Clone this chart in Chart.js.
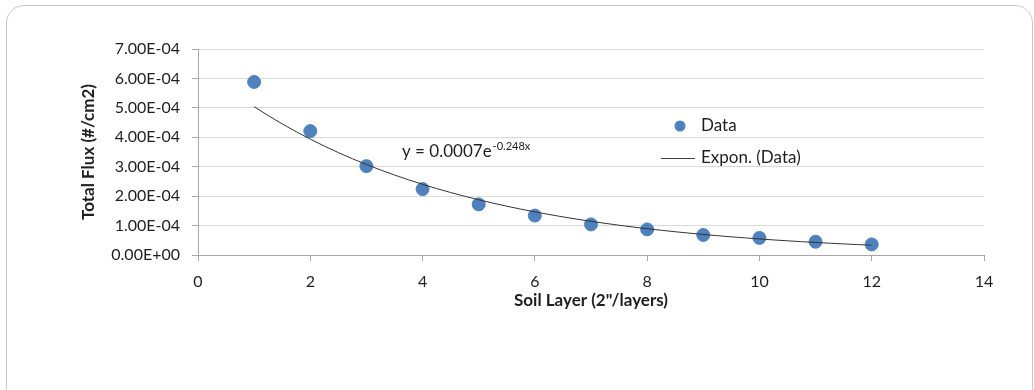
<!DOCTYPE html>
<html><head><meta charset="utf-8">
<script src="https://cdn.jsdelivr.net/npm/chart.js@4/dist/chart.umd.min.js"></script>
<style>
html,body{margin:0;padding:0;background:#fff;width:1034px;height:390px;overflow:hidden;}
#frame{position:absolute;left:6px;top:5px;width:1027px;height:430px;border:1.5px solid #c8c8c8;border-radius:18px;box-sizing:border-box;}
#c{position:absolute;left:0;top:0;}
</style></head><body>
<div id="frame"></div>
<canvas id="c" width="1034" height="390"></canvas>
<script>
// ---- data ----
const layers = [1, 2, 3, 4, 5, 6, 7, 8, 9, 10, 11, 12];
const flux = [5.88e-4, 4.21e-4, 3.02e-4, 2.24e-4, 1.72e-4, 1.34e-4, 1.04e-4, 0.87e-4, 0.68e-4, 0.58e-4, 0.45e-4, 0.36e-4];
const xTickValues = [0, 2, 4, 6, 8, 10, 12, 14];
const yTickValues = [0, 1e-4, 2e-4, 3e-4, 4e-4, 5e-4, 6e-4, 7e-4];
const seriesName = 'Data';
const trendName = 'Expon. (Data)';
const eqMain = 'y = 0.0007e';
const eqSup = '-0.248x';
const xTitle = 'Soil Layer (2"/layers)';
const yTitle = 'Total Flux (#/cm2)';

// exponential least-squares fit of the data (Excel trendline)
function expFit(xs, ys) {
  const n = xs.length;
  const ly = ys.map(Math.log);
  const mx = xs.reduce((a, b) => a + b, 0) / n;
  const my = ly.reduce((a, b) => a + b, 0) / n;
  let sxy = 0, sxx = 0;
  for (let i = 0; i < n; i++) { sxy += (xs[i] - mx) * (ly[i] - my); sxx += (xs[i] - mx) ** 2; }
  const k = sxy / sxx;
  return { A: Math.exp(my - k * mx), k };
}
const fit = expFit(layers, flux);
const trend = [];
for (let x = layers[0]; x <= layers[layers.length - 1] + 1e-9; x += 0.25) {
  trend.push({ x, y: fit.A * Math.exp(fit.k * x) });
}

function fmtE(v) {
  if (Math.abs(v) < 1e-12) return '0.00E+00';
  const [m, e] = v.toExponential(2).split('e');
  const n = parseInt(e, 10);
  return m + 'E' + (n < 0 ? '-' : '+') + String(Math.abs(n)).padStart(2, '0');
}

const FONT = 'Lato, "Open Sans", sans-serif';
const TXT = '#1f1f1f';
const BLUE = '#4F81BD';

const overlay = {
  id: 'overlay',
  afterDraw(chart) {
    const ctx = chart.ctx;
    ctx.save();
    // legend
    ctx.fillStyle = BLUE;
    ctx.beginPath(); ctx.arc(680, 126, 5.5, 0, Math.PI * 2); ctx.fill();
    ctx.strokeStyle = '#404040'; ctx.lineWidth = 1;
    ctx.beginPath(); ctx.moveTo(661, 158.5); ctx.lineTo(695, 158.5); ctx.stroke();
    ctx.fillStyle = TXT;
    ctx.font = '17px ' + FONT;
    ctx.textBaseline = 'middle'; ctx.textAlign = 'left';
    ctx.fillText(seriesName, 701, 126);
    ctx.fillText(trendName, 701, 158);
    // equation
    ctx.fillText(eqMain, 402, 152);
    const w = ctx.measureText(eqMain).width;
    ctx.font = '11px ' + FONT;
    ctx.fillText(eqSup, 402 + w + 1, 146);
    ctx.restore();
  }
};

new Chart(document.getElementById('c'), {
  type: 'scatter',
  data: {
    datasets: [
      {
        label: seriesName,
        data: layers.map((x, i) => ({ x, y: flux[i] })),
        backgroundColor: BLUE, borderColor: BLUE,
        pointRadius: 6.5, pointHoverRadius: 6.5, order: 2
      },
      {
        label: trendName, type: 'line',
        data: trend, showLine: true,
        borderColor: '#333333', borderWidth: 1, pointRadius: 0,
        fill: false, tension: 0, order: 1
      }
    ]
  },
  options: {
    responsive: false, animation: false, devicePixelRatio: 1,
    layout: { padding: { left: 78, right: 50, top: 49, bottom: 79 } },
    plugins: { legend: { display: false }, tooltip: { enabled: false } },
    scales: {
      x: {
        type: 'linear', min: 0, max: 14,
        afterBuildTicks: s => { s.ticks = xTickValues.map(v => ({ value: v })); },
        afterFit: s => { s.height = 56; },
        grid: { drawOnChartArea: false, drawTicks: true, tickLength: 6, tickColor: '#a6a6a6' },
        border: { color: '#a6a6a6', width: 1 },
        ticks: { color: TXT, font: { family: FONT, size: 16 }, padding: 11, maxRotation: 0 },
        title: { display: true, text: xTitle, color: TXT, font: { family: FONT, size: 17, weight: 'bold' }, padding: 0 }
      },
      y: {
        type: 'linear', min: 0, max: 7e-4,
        afterBuildTicks: s => { s.ticks = yTickValues.map(v => ({ value: v })); },
        afterFit: s => { s.width = 120; },
        grid: { color: '#d9d9d9', drawTicks: true, tickLength: 6, tickColor: '#a6a6a6' },
        border: { color: '#a6a6a6', width: 1 },
        ticks: { color: TXT, font: { family: FONT, size: 16 }, padding: 12, callback: v => fmtE(v) },
        title: { display: true, text: yTitle, color: TXT, font: { family: FONT, size: 17, weight: 'bold' }, padding: 0 }
      }
    }
  },
  plugins: [overlay]
});
</script>
</body></html>
